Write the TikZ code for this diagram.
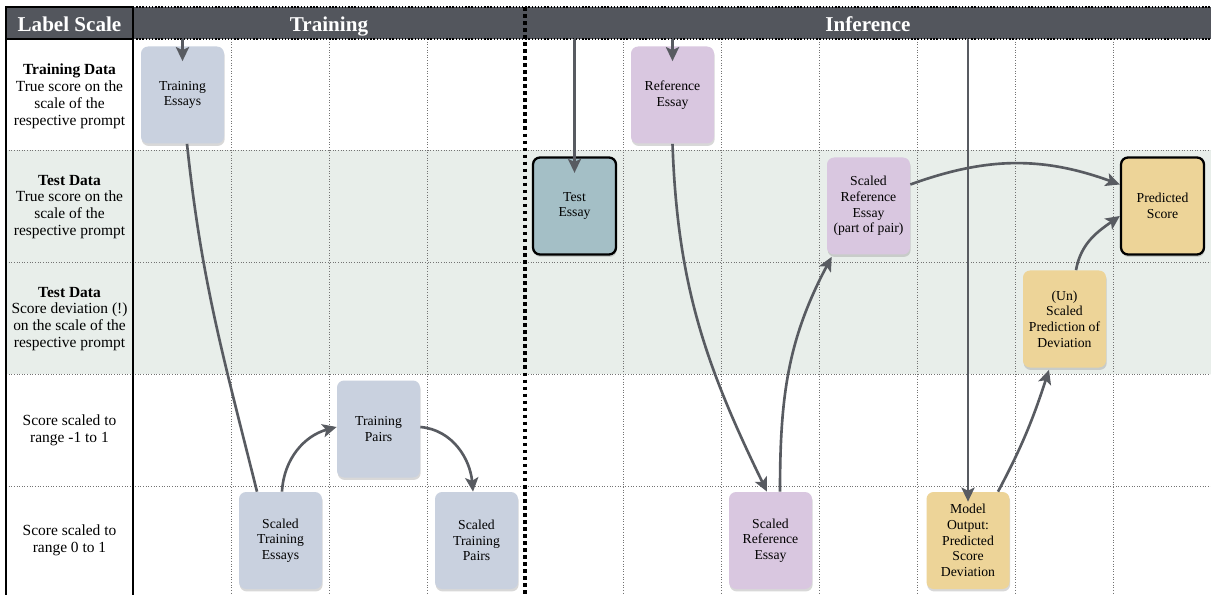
\documentclass[tikz,border=0pt]{standalone}
\usepackage{fontspec}
\setmainfont{Liberation Serif}
\usetikzlibrary{arrows.meta,shadows}

\definecolor{hdrgray}{HTML}{53565D}
\definecolor{bandgreen}{HTML}{E8EEEA}
\definecolor{trblue}{HTML}{C9D1DF}
\definecolor{refpurple}{HTML}{D9C7E0}
\definecolor{testteal}{HTML}{A4BFC6}
\definecolor{outyellow}{HTML}{EDD498}
\definecolor{flowgray}{HTML}{585B61}

\tikzset{
  box/.style={rectangle, rounded corners=4pt, minimum width=1.66cm, minimum height=1.94cm,
    inner sep=1pt, align=center, font=\fontsize{7.8}{8.9}\selectfont,
    drop shadow={shadow xshift=0.4pt, shadow yshift=-1.4pt, opacity=0.3}},
  trbox/.style={box, fill=trblue},
  refbox/.style={box, fill=refpurple},
  outbox/.style={box, fill=outyellow},
  keybox/.style={draw=black, line width=1.3pt},
  flow/.style={draw=flowgray, line width=1.5pt, -{Stealth[length=8pt,width=7.5pt,inset=1.8pt]}},
  gridline/.style={black!55, line width=0.5pt, densely dotted},
  rowlab/.style={align=center, font=\fontsize{8.8}{9.6}\selectfont},
  headlab/.style={text=white, minimum height=0.64cm, inner sep=0pt, text height=10.3pt,
    text depth=0.9pt, font=\fontsize{12}{14}\selectfont\bfseries},
}

\begin{document}
\begin{tikzpicture}
\useasboundingbox (0,0) rectangle (24.22,-11.9);
\fill[white] (0,0) rectangle (24.22,-11.9);
% test data rows and header band
\fill[bandgreen] (0.12,-3.0) rectangle (24.22,-7.48);
\fill[hdrgray] (0.12,-0.14) rectangle (24.22,-0.78);
% grid
\foreach \x in {4.62,6.58,8.54,12.46,14.42,16.38,18.34,20.30,22.26}{
  \draw[gridline] (\x,-0.78) -- (\x,-11.9);
}
\foreach \y in {-3.0,-5.24,-7.48,-9.72}{
  \draw[gridline] (0.12,\y) -- (24.22,\y);
}
\draw[densely dotted, line width=0.8pt] (2.66,-0.14) -- (24.22,-0.14);
\draw[densely dotted, line width=0.8pt] (2.66,-0.78) -- (24.22,-0.78);
% label column frame
\draw[line width=1.2pt] (0.12,-11.95) -- (0.12,-0.14) -- (2.66,-0.14) -- (2.66,-11.95);
\draw[line width=1.2pt] (0.12,-0.78) -- (2.66,-0.78);
% training | inference
\draw[line width=2pt, dash pattern=on 2pt off 2pt] (10.5,-0.14) -- (10.5,-11.9);

\node[headlab] (labHead) at (1.39,-0.46) {Label Scale};
\node[headlab] (trHead) at (6.58,-0.46) {Training};
\node[headlab] (infHead) at (17.36,-0.46) {Inference};

\node[rowlab] (rowTrain) at (1.39,-1.92) {\textbf{Training Data}\\True score on the\\scale of the\\respective prompt};
\node[rowlab] (rowTest) at (1.39,-4.14) {\textbf{Test Data}\\True score on the\\scale of the\\respective prompt};
\node[rowlab] (rowDev) at (1.39,-6.38) {\textbf{Test Data}\\Score deviation (!)\\on the scale of the\\respective prompt};
\node[rowlab] (rowPm) at (1.39,-8.60) {Score scaled to\\range -1 to 1};
\node[rowlab] (rowZo) at (1.39,-10.80) {Score scaled to\\range 0 to 1};

% boxes
\node[trbox] (trEss) at (3.65,-1.90) {Training\\Essays};
\node[trbox] (sTrEss) at (5.61,-10.81) {Scaled\\Training\\Essays};
\node[trbox] (trPairs) at (7.57,-8.58) {Training\\Pairs};
\node[trbox] (sTrPairs) at (9.53,-10.81) {Scaled\\Training\\Pairs};
\node[box, keybox, fill=testteal] (testEss) at (11.49,-4.12) {Test\\Essay};
\node[refbox] (refEss) at (13.45,-1.90) {Reference\\Essay};
\node[refbox] (sRefEss) at (15.41,-10.81) {Scaled\\Reference\\Essay};
\node[refbox] (sRefPair) at (17.37,-4.12) {Scaled\\Reference\\Essay\\(part of pair)};
\node[outbox] (modelOut) at (19.36,-10.81) {Model\\Output:\\Predicted\\Score\\Deviation};
\node[outbox] (unscDev) at (21.29,-6.38) {(Un)\\Scaled\\Prediction of\\Deviation};
\node[outbox, keybox] (predScore) at (23.25,-4.12) {Predicted\\Score};

% inputs from the header
\draw[flow] (trEss |- trHead.south) -- ([yshift=-0.3cm]trEss.north);
\draw[flow] (testEss |- infHead.south) -- ([yshift=-0.33cm]testEss.north);
\draw[flow] (refEss |- infHead.south) -- ([yshift=-0.3cm]refEss.north);
\draw[flow] (modelOut |- infHead.south) -- ([yshift=-0.2cm]modelOut.north);

% training flow
\draw[flow, -] ([xshift=0.09cm]trEss.south) to[out=-84, in=104] ([xshift=-0.47cm]sTrEss.north);
\draw[flow] ([xshift=0.03cm]sTrEss.north) to[out=87, in=195] ([yshift=0.04cm]trPairs.west);
\draw[flow] ([yshift=0.04cm]trPairs.east) to[out=-5, in=95] ([xshift=-0.07cm]sTrPairs.north);

% inference flow
\draw[flow] (refEss.south) to[out=-88, in=116] ([xshift=-0.07cm]sRefEss.north);
\draw[flow] ([xshift=0.19cm]sRefEss.north) to[out=90, in=-118] ([shift={(0.1cm,-0.04cm)}]sRefPair.south west);
\draw[flow] ([xshift=0.6cm]modelOut.north) to[out=62, in=-108] ([shift={(-0.31cm,-0.04cm)}]unscDev.south);
\draw[flow] ([xshift=0.23cm]unscDev.north) to[out=80, in=215] ([yshift=-0.2cm]predScore.west);
\draw[flow] ([yshift=0.43cm]sRefPair.east) to[out=20, in=160] ([yshift=0.43cm]predScore.west);
\end{tikzpicture}
\end{document}
